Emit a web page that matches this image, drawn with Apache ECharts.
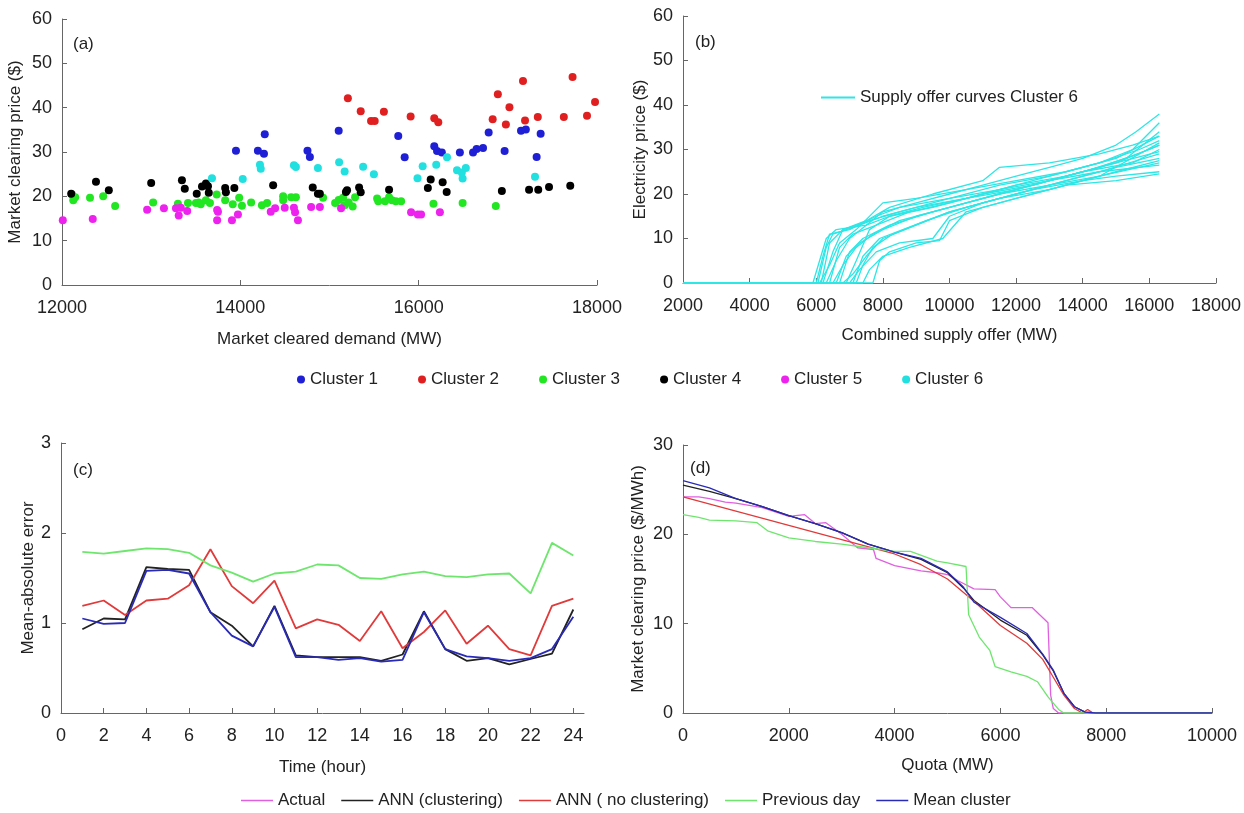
<!DOCTYPE html>
<html>
<head>
<meta charset="utf-8">
<script src="https://cdn.jsdelivr.net/npm/echarts@6/dist/echarts.min.js"></script>
<style>
html,body{margin:0;padding:0;background:#fff;}
#main{width:1244px;height:813px;}
</style>
</head>
<body>
<div id="main"></div>
<script>
// ---------- Panel (a): market clearing price vs demand, by cluster ----------
const cluster1 = [[13951,30.3],[14197,30.3],[14265,29.6],[14274,34.0],[14753,30.3],[14780,28.9],[15103,34.8],[15771,33.6],[15843,28.8],[16175,31.3],[16206,30.2],[16260,29.9],[16462,29.9],[16610,29.9],[16650,30.7],[16722,30.9],[16785,34.4],[16964,30.2],[17148,34.8],[17202,35.1],[17323,28.9],[17368,34.1]];
const cluster2 = [[15206,42.1],[15350,39.2],[15466,37.0],[15507,37.0],[15610,39.1],[15910,38.0],[16175,37.6],[16220,36.7],[16830,37.4],[16888,43.0],[16978,36.2],[17018,40.1],[17170,46.0],[17193,37.1],[17336,37.9],[17628,37.9],[17726,46.9],[17888,38.2],[17978,41.3],[18004,42.1]];
const cluster3 = [[12112,20.4],[12126,19.1],[12148,19.8],[12314,19.7],[12462,20.0],[12596,17.8],[13022,18.6],[13300,18.3],[13413,18.5],[13502,18.5],[13534,18.6],[13556,18.2],[13614,19.1],[13659,18.5],[13735,20.4],[13830,19.1],[13915,18.2],[13987,19.7],[14018,17.9],[14121,18.6],[14242,18.0],[14300,18.5],[14480,20.0],[14480,19.1],[14570,19.8],[14623,19.8],[14928,19.7],[15063,18.5],[15103,19.2],[15152,19.7],[15170,18.0],[15215,18.6],[15260,17.7],[15287,19.8],[15534,19.5],[15547,18.9],[15623,18.9],[15668,19.8],[15700,19.1],[15744,18.9],[15803,18.9],[16166,18.3],[16493,18.5],[16865,17.8]];
const cluster4 = [[12103,20.6],[12381,23.3],[12525,21.4],[13000,23.0],[13345,23.6],[13377,21.7],[13511,20.6],[13570,22.2],[13614,22.9],[13637,22.3],[13646,20.8],[13830,21.9],[13838,20.9],[13933,21.9],[14368,22.5],[14812,22.0],[14870,20.6],[14892,20.6],[15184,21.0],[15197,21.4],[15332,22.0],[15350,20.9],[15668,21.5],[16103,21.9],[16135,23.8],[16269,23.2],[16314,21.0],[16933,21.2],[17238,21.5],[17341,21.5],[17462,22.1],[17700,22.4]];
const cluster5 = [[12009,14.6],[12345,14.9],[12955,17.0],[13143,17.3],[13278,17.3],[13309,15.7],[13332,17.4],[13404,16.7],[13740,16.9],[13749,16.5],[13740,14.6],[13906,14.6],[13973,15.9],[14341,16.5],[14390,17.3],[14498,17.4],[14601,17.4],[14614,16.4],[14646,14.6],[14794,17.6],[14892,17.6],[15130,17.3],[15915,16.4],[15991,15.9],[16027,15.9],[16238,16.4]];
const cluster6 = [[13682,24.1],[14027,23.9],[14220,27.1],[14229,26.2],[14601,27.0],[14623,26.6],[14870,26.4],[15108,27.7],[15170,25.6],[15377,26.7],[15498,25.0],[15987,24.1],[16045,26.8],[16197,27.1],[16318,28.8],[16430,25.9],[16484,25.4],[16493,24.0],[16529,26.4],[17305,24.4]];
const clusterNames = ['Cluster 1','Cluster 2','Cluster 3','Cluster 4','Cluster 5','Cluster 6'];

// ---------- Panel (b): supply offer curves of cluster 6 ----------
const offer01 = [[2000,0],[5900,0],[6100,5],[6300,10],[6600,12],[7500,13],[8000,16],[9000,18],[10000,20],[11000,22],[12000,24],[13000,26],[14000,28],[15000,31],[15600,34],[16300,38]];
const offer02 = [[2000,0],[6000,0],[6200,6],[6400,11],[7000,12],[7800,15],[8500,17],[10000,19],[11500,22],[13000,24],[14500,27],[15500,30],[16300,36]];
const offer03 = [[2000,0],[6100,0],[6400,4],[6700,9],[7200,12],[8000,18],[9000,19],[10500,21],[12000,23],[13500,25],[15000,28],[16300,33]];
const offer04 = [[2000,0],[6300,0],[6600,5],[7000,10],[7500,13],[8200,15],[9500,17],[11000,20],[12500,22],[14000,25],[15500,27],[16300,30]];
const offer05 = [[2000,0],[6500,0],[6800,4],[7200,8],[7700,11],[8500,14],[10000,17],[11500,20],[13000,22],[14500,24],[16300,27]];
const offer06 = [[2000,0],[7000,0],[7300,3],[7800,7],[8500,9],[9500,10],[10000,15],[11000,18],[12500,21],[14000,23],[15000,24],[16300,25]];
const offer07 = [[2000,0],[7700,0],[7900,5],[8200,7],[9000,9],[9700,9.5],[10000,14],[11000,17],[12000,19],[13500,22],[15000,23],[16300,24.5]];
const offer08 = [[2000,0],[6200,0],[6500,7],[6800,12],[7500,14],[8200,17],[9500,20],[11000,23],[11500,26],[13000,27],[14500,29],[15500,31],[16300,33]];
const offer09 = [[2000,0],[6600,0],[6900,6],[7300,9],[8000,12],[9000,15],[10000,17],[11500,20],[13000,23],[14500,26],[16000,30],[16300,31]];
const offer10 = [[2000,0],[6800,0],[7100,2],[7500,6],[8000,10],[9000,13],[10000,16],[11500,19],[13000,22],[14500,25],[16300,29]];
const offer11 = [[2000,0],[6400,0],[6700,8],[7100,11],[7800,13],[8800,16],[10000,18],[11500,21],[13000,24],[14500,27],[15700,30],[16300,32]];
const offer12 = [[2000,0],[7200,0],[7400,4],[7700,8],[8300,11],[9300,14],[10500,17],[12000,20],[13500,23],[15000,26],[16300,28]];
const offer13 = [[2000,0],[6900,0],[7200,5],[7600,12],[8200,15],[9200,17],[10500,19],[12000,22],[13500,24],[15000,27],[16300,31]];
const offer14 = [[2000,0],[6050,0],[6300,8],[6500,11],[7300,13],[8000,15],[9000,17],[10500,19],[12000,21],[13500,24],[15000,27],[16300,29.5]];
const offer15 = [[2000,0],[7400,0],[7600,3],[8000,6],[8800,8],[9800,10],[10500,16],[12000,19],[13500,22],[15000,25],[16300,27.5]];
const offer16 = [[2000,0],[6700,0],[7000,7],[7400,10],[8200,13],[9500,16],[11000,19],[12500,22],[14000,25],[15300,28],[16300,34]];
const offer17 = [[2000,0],[6150,0],[6400,9],[6800,12],[7600,14],[8500,16],[10000,19],[11500,21],[13000,23],[14500,25],[16300,26.5]];
const offer18 = [[2000,0],[7100,0],[7400,6],[7900,10],[8600,12],[10000,16],[11500,19],[13000,21],[14500,24],[16300,31.5]];
const offerCurves = [offer01,offer02,offer03,offer04,offer05,offer06,offer07,offer08,offer09,offer10,offer11,offer12,offer13,offer14,offer15,offer16,offer17,offer18];
const offerName = 'Supply offer curves Cluster 6';

// ---------- Panel (c): mean-absolute error by hour ----------
const hours = [1,2,3,4,5,6,7,8,9,10,11,12,13,14,15,16,17,18,19,20,21,22,23,24];
const maePrevDay   = [1.79,1.77,1.80,1.83,1.82,1.78,1.64,1.56,1.46,1.55,1.57,1.65,1.64,1.50,1.49,1.54,1.57,1.52,1.51,1.54,1.55,1.33,1.89,1.75];
const maeNoClust   = [1.19,1.25,1.09,1.25,1.27,1.42,1.82,1.41,1.22,1.47,0.94,1.04,0.98,0.80,1.13,0.72,0.90,1.14,0.77,0.97,0.71,0.64,1.19,1.27];
const maeClust     = [0.93,1.05,1.04,1.62,1.60,1.59,1.12,0.97,0.74,1.19,0.64,0.62,0.62,0.62,0.58,0.65,1.13,0.71,0.58,0.61,0.54,0.60,0.66,1.15];
const maeMean      = [1.05,0.99,1.00,1.58,1.59,1.55,1.12,0.86,0.74,1.18,0.62,0.62,0.59,0.61,0.57,0.59,1.12,0.71,0.63,0.61,0.58,0.61,0.71,1.07];
const hourTicks = [0,2,4,6,8,10,12,14,16,18,20,22,24];

// ---------- Panel (d): market clearing price vs quota ----------
const dActual = [[0,24.2],[300,24.2],[500,24.0],[800,23.6],[1000,23.5],[1500,23.0],[2000,22.0],[2300,22.2],[2500,21.2],[2700,21.3],[3000,20.0],[3300,18.5],[3600,18.3],[3650,17.3],[4000,16.5],[4500,15.9],[4800,15.7],[5000,15.5],[5200,14.8],[5500,13.9],[5900,13.8],[6000,13.0],[6200,11.8],[6600,11.8],[6900,10.1],[6950,2.0],[7000,0.5],[7100,0],[10000,0]];
const dClust  = [[0,25.5],[500,24.8],[1000,24.0],[1500,23.1],[2000,22.1],[2500,21.2],[3000,20.2],[3500,18.9],[4000,18.0],[4500,17.2],[5000,15.7],[5300,14.0],[5500,12.6],[6000,10.4],[6500,8.7],[6800,6.5],[7000,4.7],[7200,2.2],[7400,0.7],[7600,0.1],[7800,0],[10000,0]];
const dNoClust = [[0,24.2],[1000,22.6],[2000,21.0],[3000,19.4],[4000,17.8],[4500,16.6],[5000,15.0],[5500,12.5],[6000,9.8],[6500,7.8],[6800,6.0],[7000,4.0],[7200,2.0],[7400,0.5],[7550,0],[7650,0.4],[7750,0],[10000,0]];
const dPrevDay = [[0,22.2],[300,21.9],[500,21.6],[1000,21.5],[1400,21.3],[1600,20.4],[2000,19.6],[2500,19.2],[3000,18.9],[3500,18.5],[4000,18.1],[4300,18.1],[4800,17.0],[5000,16.8],[5350,16.4],[5400,11.0],[5600,8.5],[5800,7.0],[5900,5.2],[6200,4.6],[6500,4.1],[6700,3.5],[6900,1.8],[7100,0.4],[7200,0],[10000,0]];
const dMean = [[0,26.0],[500,25.2],[1000,24.0],[1500,23.1],[2000,22.1],[2500,21.2],[3000,20.2],[3500,18.9],[4000,18.0],[4500,17.3],[5000,15.8],[5300,14.1],[5500,12.4],[6000,10.7],[6500,8.9],[6800,6.6],[7000,4.8],[7200,2.2],[7400,0.7],[7600,0.1],[7800,0],[10000,0]];
const lineNames = ['Actual','ANN (clustering)','ANN ( no clustering)','Previous day','Mean cluster'];

// ---------- styling ----------
const FONT = "'Liberation Sans Narrow','Liberation Sans',Arial,sans-serif";
const AX = '#666';
const TXT = '#222';
const clusterColors = ['#1f1fd6','#e02020','#22e622','#000000','#ee22ee','#22e0e0'];
const lineColors = ['#e060e0','#222222','#e03a3a','#6ee66e','#2a2ab8'];
const plain = v => String(v);

function axisBase(extra, labelMargin) {
  return Object.assign({
    axisLine: {show: true, onZero: false, lineStyle: {color: AX, width: 1}},
    axisTick: {show: true, inside: true, length: 5, lineStyle: {color: AX}},
    axisLabel: {color: TXT, fontSize: 18, fontFamily: FONT, margin: labelMargin, formatter: plain},
    splitLine: {show: false},
    nameLocation: 'middle',
    nameTextStyle: {color: TXT, fontSize: 17, fontFamily: FONT}
  }, extra);
}

const series = [];
[cluster1,cluster2,cluster3,cluster4,cluster5,cluster6].forEach((d,i) => {
  series.push({type:'scatter', name: clusterNames[i], xAxisIndex:0, yAxisIndex:0, data:d,
    symbolSize: 8, itemStyle:{color: clusterColors[i], opacity: 1}});
});
offerCurves.forEach(d => {
  series.push({type:'line', name: offerName, xAxisIndex:1, yAxisIndex:1, data:d,
    symbol:'none', lineStyle:{color:'#2ee6e6', width:1.3}, itemStyle:{color:'#2ee6e6'}});
});
const cSeries = [[maeClust,1],[maeNoClust,2],[maePrevDay,3],[maeMean,4]];
cSeries.forEach(([vals,k]) => {
  series.push({type:'line', name: lineNames[k], xAxisIndex:2, yAxisIndex:2,
    data: hours.map((h,i)=>[h, vals[i]]), symbol:'none',
    lineStyle:{color: lineColors[k], width:1.8}, itemStyle:{color: lineColors[k]}});
});
[[dActual,0],[dClust,1],[dNoClust,2],[dPrevDay,3],[dMean,4]].forEach(([d,k]) => {
  series.push({type:'line', name: lineNames[k], xAxisIndex:3, yAxisIndex:3, data:d,
    symbol:'none', lineStyle:{color: lineColors[k], width:1.3}, itemStyle:{color: lineColors[k]}});
});

const legendText = {color:TXT, fontSize:17, fontFamily:FONT};
const option = {
  backgroundColor: '#fff',
  animation: false,
  textStyle: {fontFamily: FONT},
  grid: [
    {left: 62, top: 19, width: 535, height: 266},
    {left: 683, top: 16, width: 537, height: 267},
    {left: 61, top: 443, width: 523, height: 270},
    {left: 683, top: 445, width: 529, height: 268}
  ],
  xAxis: [
    axisBase({type:'value', gridIndex:0, min:12000, max:18000, interval:2000, name:'Market cleared demand (MW)', nameGap: 46}, 14),
    axisBase({type:'value', gridIndex:1, min:2000, max:18000, interval:2000, name:'Combined supply offer (MW)', nameGap: 44}, 14),
    axisBase({type:'value', gridIndex:2, min:0, max:24.5, name:'Time (hour)', nameGap: 46,
      axisTick:{show:true, inside:true, length:5, lineStyle:{color:AX}, customValues: hourTicks},
      axisLabel:{color:TXT, fontSize:18, fontFamily:FONT, margin:14, customValues: hourTicks}}, 14),
    axisBase({type:'value', gridIndex:3, min:0, max:10000, interval:2000, name:'Quota (MW)', nameGap: 44}, 14)
  ],
  yAxis: [
    axisBase({type:'value', gridIndex:0, min:0, max:60, interval:10, name:'Market clearing price ($)', nameGap: 38}, 10),
    axisBase({type:'value', gridIndex:1, min:0, max:60, interval:10, name:'Electricity price ($)', nameGap: 33}, 10),
    axisBase({type:'value', gridIndex:2, min:0, max:3, interval:1, name:'Mean-absolute error', nameGap: 21}, 10),
    axisBase({type:'value', gridIndex:3, min:0, max:30, interval:10, name:'Market clearing price ($/MWh)', nameGap: 36}, 10)
  ],
  legend: [
    {data: clusterNames, top: 366, left: 292, selectedMode: false, icon: 'circle',
      itemWidth: 8, itemHeight: 8, itemGap: 40, textStyle: legendText},
    {data: [offerName], top: 84, left: 816, selectedMode: false, icon: 'rect',
      itemWidth: 34, itemHeight: 2, textStyle: legendText},
    {data: lineNames, top: 787, left: 236, selectedMode: false, icon: 'rect',
      itemWidth: 32, itemHeight: 1.5, itemGap: 16, textStyle: legendText}
  ],
  graphic: [
    {type:'text', left: 73, top: 36, style:{text:'(a)', fontSize:17, fontFamily:FONT, fill:TXT}},
    {type:'text', left: 695, top: 34, style:{text:'(b)', fontSize:17, fontFamily:FONT, fill:TXT}},
    {type:'text', left: 73, top: 462, style:{text:'(c)', fontSize:17, fontFamily:FONT, fill:TXT}},
    {type:'text', left: 690, top: 460, style:{text:'(d)', fontSize:17, fontFamily:FONT, fill:TXT}}
  ],
  series: series
};

const chart = echarts.init(document.getElementById('main'), null, {renderer:'canvas'});
chart.setOption(option);
</script>
</body>
</html>
